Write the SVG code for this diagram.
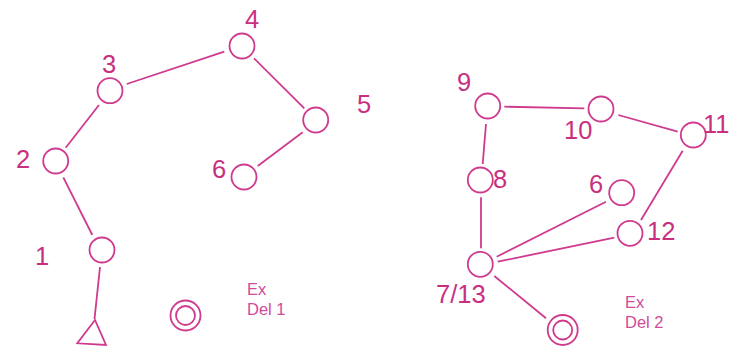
<svg xmlns="http://www.w3.org/2000/svg" width="732" height="347" viewBox="0 0 732 347">
<style>
.n{fill:none;stroke:#cf3a8e;stroke-width:1.8}
.e line{stroke:#cf3a8e;stroke-width:1.8}
.l{font-family:"Liberation Sans",Arial,sans-serif;font-size:25.5px;fill:#c8307f}
.s{font-family:"Liberation Sans",Arial,sans-serif;font-size:16.5px;fill:#d24a98}
</style>
<rect width="732" height="347" fill="#ffffff"/>
<g class="e" id="connectors">
<line x1="100" y1="267" x2="94.5" y2="319"/>
<line x1="92.3" y1="235" x2="63.3" y2="177.3"/>
<line x1="65.7" y1="147.7" x2="99" y2="105"/>
<line x1="126.7" y1="84" x2="224.3" y2="51.7"/>
<line x1="254" y1="58.3" x2="304.3" y2="108.3"/>
<line x1="302.7" y1="132.3" x2="257.7" y2="166"/>
<line x1="504.3" y1="106.7" x2="584.3" y2="108.3"/>
<line x1="618.3" y1="115" x2="677.7" y2="131.7"/>
<line x1="486" y1="124" x2="482.7" y2="164"/>
<line x1="481" y1="197.3" x2="481" y2="248.3"/>
<line x1="682.7" y1="150.7" x2="641" y2="220"/>
<line x1="496.7" y1="256.7" x2="606" y2="201.7"/>
<line x1="497.7" y1="261.7" x2="614.3" y2="237.7"/>
<line x1="494.3" y1="276" x2="546" y2="318.3"/>
</g>
<g id="n1"><circle class="n" cx="102" cy="250" r="12.5"/><text class="l" x="35" y="265">1</text></g>
<g id="n2"><circle class="n" cx="55.7" cy="161" r="12.5"/><text class="l" x="16" y="168">2</text></g>
<g id="n3"><circle class="n" cx="110" cy="90.7" r="12.5"/><text class="l" x="102" y="73">3</text></g>
<g id="n4"><circle class="n" cx="242" cy="46" r="12.5"/><text class="l" x="245" y="28">4</text></g>
<g id="n5"><circle class="n" cx="315.7" cy="120" r="12.5"/><text class="l" x="357" y="113">5</text></g>
<g id="n6a"><circle class="n" cx="244" cy="177" r="12.5"/><text class="l" x="212" y="178">6</text></g>
<g id="start"><polygon class="n" points="95,320 77.3,343.3 106,345"/></g>
<g id="end1"><circle class="n" cx="185.5" cy="315.5" r="15"/><circle class="n" cx="185.5" cy="315.5" r="9.5"/></g>
<g id="legend1"><text class="s" x="247" y="295">Ex</text><text class="s" x="247" y="315">Del 1</text></g>
<g id="n9"><circle class="n" cx="487.7" cy="106" r="12.5"/><text class="l" x="457" y="90.7">9</text></g>
<g id="n10"><circle class="n" cx="601" cy="109" r="12.5"/><text class="l" x="564" y="139.3">10</text></g>
<g id="n11"><circle class="n" cx="693.3" cy="135" r="12.5"/><text class="l" x="703" y="133">11</text></g>
<g id="n8"><circle class="n" cx="480.3" cy="180" r="12.5"/><text class="l" x="493" y="188">8</text></g>
<g id="n6b"><circle class="n" cx="621.7" cy="192.7" r="12.5"/><text class="l" x="589" y="193">6</text></g>
<g id="n12"><circle class="n" cx="630" cy="233.3" r="12.5"/><text class="l" x="647" y="240">12</text></g>
<g id="n713"><circle class="n" cx="480.3" cy="264.3" r="12.5"/><text class="l" x="436" y="303">7/13</text></g>
<g id="end2"><circle class="n" cx="562.7" cy="330" r="15"/><circle class="n" cx="562.7" cy="330" r="9.5"/></g>
<g id="legend2"><text class="s" x="625" y="308">Ex</text><text class="s" x="625" y="328">Del 2</text></g>
</svg>
